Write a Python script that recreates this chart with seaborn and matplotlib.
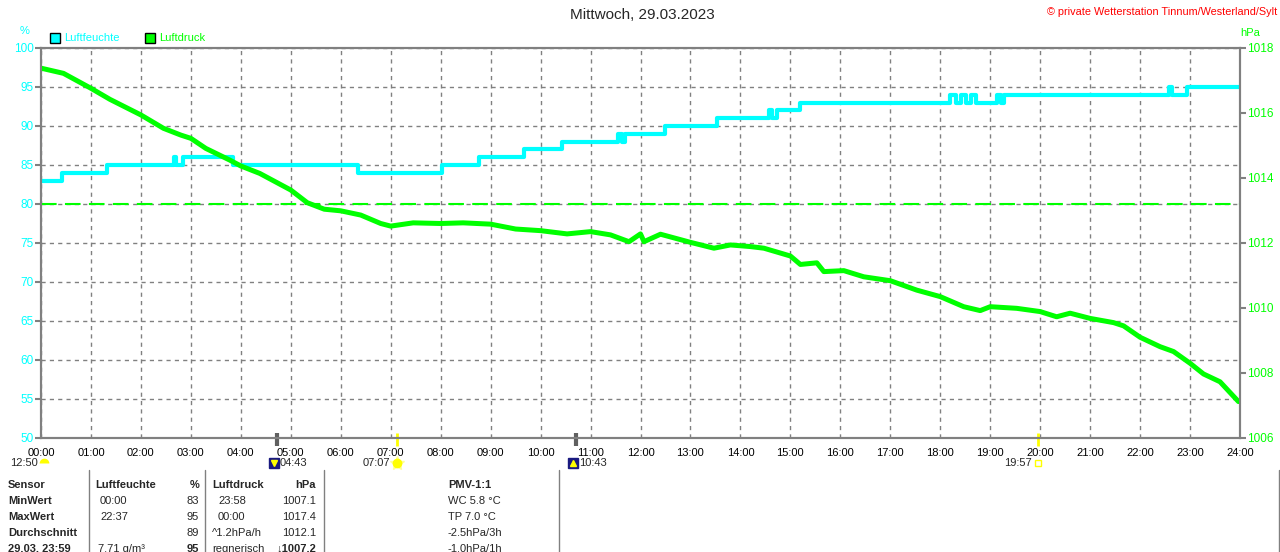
import numpy as np
import pandas as pd
import matplotlib
matplotlib.use("Agg")
import matplotlib.pyplot as plt
import matplotlib.transforms as mtransforms
from matplotlib.lines import Line2D
from matplotlib.patches import Rectangle
import seaborn as sns

# humidity (%), step values, time in hours
hum_hours = [0.00, 0.43, 1.33, 2.66, 2.70, 2.85, 3.84, 6.34, 8.03, 8.77,
             9.67, 10.42, 11.55, 11.62, 11.68, 11.77, 12.50, 13.53, 14.57, 14.63,
             14.74, 15.20, 18.20, 18.32, 18.42, 18.52, 18.62, 18.72, 18.90, 19.13,
             19.22, 19.28, 19.35, 22.58, 22.64, 22.93, 24.00]
hum_values = [83, 84, 85, 86, 85, 86, 85, 84, 85, 86,
              87, 88, 89, 88, 89, 89, 90, 91, 92, 91,
              92, 93, 94, 93, 94, 93, 94, 93, 93, 94,
              93, 94, 94, 95, 94, 95, 95]

# air pressure (hPa)
press_hours = [0, 0.45, 1.0, 1.38, 2.0, 2.45, 2.8, 3.0, 3.3, 3.78,
               4.0, 4.38, 5.0, 5.33, 5.67, 6.0, 6.4, 6.8, 7.0, 7.45,
               8.0, 8.45, 9.0, 9.5, 10.0, 10.53, 11.0, 11.4, 11.77, 12.0,
               12.07, 12.4, 13.0, 13.47, 13.8, 14.2, 14.47, 15.0, 15.2, 15.53,
               15.67, 16.07, 16.47, 17.0, 17.53, 18.0, 18.47, 18.8, 19.0, 19.53,
               20.0, 20.33, 20.6, 21.0, 21.47, 21.67, 22.0, 22.4, 22.67, 23.0,
               23.27, 23.6, 23.97]
press_values = [1017.38, 1017.22, 1016.76, 1016.42, 1015.94, 1015.53, 1015.32, 1015.22, 1014.91, 1014.55,
                1014.37, 1014.14, 1013.63, 1013.24, 1013.04, 1012.99, 1012.86, 1012.60, 1012.52, 1012.62,
                1012.60, 1012.62, 1012.58, 1012.43, 1012.38, 1012.28, 1012.35, 1012.25, 1012.04, 1012.28,
                1012.04, 1012.27, 1012.02, 1011.84, 1011.94, 1011.89, 1011.84, 1011.60, 1011.34, 1011.39,
                1011.12, 1011.15, 1010.96, 1010.84, 1010.55, 1010.35, 1010.04, 1009.92, 1010.04, 1009.99,
                1009.89, 1009.73, 1009.84, 1009.68, 1009.55, 1009.45, 1009.10, 1008.81, 1008.66, 1008.30,
                1007.97, 1007.73, 1007.12]
press_normal = 1013.2

hour_labels = ["%02d:00" % h for h in range(25)]
hum_ticks = list(range(50, 101, 5))
press_ticks = list(range(1006, 1019, 2))

# sun / moon events below the time axis
event_labels = ["04:43", "07:07", "10:43", "19:57"]
event_hours = [4 + 43 / 60, 7 + 7 / 60, 10 + 43 / 60, 19 + 57 / 60]
event_kinds = ["moonrise", "sunrise", "moonset", "sunset"]

# table below the chart
tab_sensor = ["Sensor", "MinWert", "MaxWert", "Durchschnitt", "29.03. 23:59"]
tab_hum_time = ["Luftfeuchte", "00:00", "22:37", "", "7.71 g/m³"]
tab_hum_val = ["%", "83", "95", "89", "95"]
tab_press_time = ["Luftdruck", "23:58", "00:00", "^1.2hPa/h", "regnerisch"]
tab_press_val = ["hPa", "1007.1", "1017.4", "1012.1", "↓1007.2"]
tab_pmv = ["PMV-1:1", "WC 5.8 °C", "TP 7.0 °C", "-2.5hPa/3h", "-1.0hPa/1h"]

CYAN = "#00FFFF"
GREEN = "#00FF00"
GREY = "#808080"

sns.set_style("white")
plt.rcParams["font.family"] = ["Liberation Sans", "DejaVu Sans"]

W, H = 1280, 552
def fx(px):
    return px / W
def fy(py):
    return 1 - py / H

fig = plt.figure(figsize=(12.8, 5.52), dpi=100)
ax = fig.add_axes([fx(41), fy(438), (1240 - 41) / W, 390 / H])

hum_df = pd.DataFrame({"Stunde": hum_hours, "Luftfeuchte": hum_values})
press_df = pd.DataFrame({"Stunde": press_hours, "Luftdruck": press_values})

sns.lineplot(data=hum_df, x="Stunde", y="Luftfeuchte", ax=ax, color=CYAN,
             lw=3, drawstyle="steps-post")
ax.set_xlim(0, 24)
ax.set_ylim(50, 100)
ax.set_xticks(range(25))
ax.set_xticklabels(hour_labels)
ax.set_yticks(hum_ticks)
ax.set_xlabel("")
ax.set_ylabel("")
ax.grid(True, color=GREY, linestyle=(0, (3, 3)), linewidth=1)
ax.tick_params(axis="x", length=0, labelsize=8, pad=7, labelcolor="black")
ax.tick_params(axis="y", length=4, width=1.5, color=GREY, labelsize=8.5,
               pad=1, labelcolor=CYAN)
for s in ax.spines.values():
    s.set_color(GREY)
    s.set_linewidth(1.5)

ax2 = ax.twinx()
ax2.axhline(press_normal, color=GREEN, lw=1.5, dashes=(7.5, 4))
sns.lineplot(data=press_df, x="Stunde", y="Luftdruck", ax=ax2, color=GREEN, lw=3.6)
ax2.set_ylim(1006, 1018)
ax2.set_yticks(press_ticks)
ax2.set_ylabel("")
ax2.tick_params(axis="y", length=4, width=1.5, color=GREY, labelsize=8.5,
                pad=1, labelcolor=GREEN)
for s in ax2.spines.values():
    s.set_color(GREY)
    s.set_linewidth(1.5)

# header texts
fig.text(fx(642), fy(15), "Mittwoch, 29.03.2023", ha="center", va="center", fontsize=11)
fig.text(fx(1277), fy(12), "© private Wetterstation Tinnum/Westerland/Sylt",
         ha="right", va="center", color="red", fontsize=7.8)
fig.text(fx(25), fy(31), "%", ha="center", va="center", color=CYAN, fontsize=8)
fig.text(fx(1250), fy(33), "hPa", ha="center", va="center", color=GREEN, fontsize=8)

# legend
for x0, col, name in [(50, CYAN, "Luftfeuchte"), (145, GREEN, "Luftdruck")]:
    fig.add_artist(Rectangle((fx(x0), fy(43)), 10 / W, 10 / H, facecolor=col,
                             edgecolor="black", lw=1, transform=fig.transFigure))
    fig.text(fx(x0 + 14), fy(38), name, ha="left", va="center", color=col, fontsize=8)

# sun / moon markers
trans = mtransforms.blended_transform_factory(ax.transData, ax.transAxes)
ylab = -25 / 390
for lab, t, kind in zip(event_labels, event_hours, event_kinds):
    moon = kind.startswith("moon")
    ax.plot([t, t], [0.012, -0.02], transform=trans, clip_on=False,
            color="#606060" if moon else "#FFFF00", lw=3 if moon else 2,
            solid_capstyle="butt")
    if moon:
        icon = mtransforms.offset_copy(trans, fig=fig, x=-3, y=0, units="dots")
        ax.plot([t], [ylab], transform=icon, clip_on=False, marker="s", ms=7,
                mfc="#1a1a80", mec="#1a1a80")
        ax.plot([t], [ylab], transform=icon, clip_on=False,
                marker="^" if kind == "moonset" else "v", ms=4,
                mfc="#FFFF00", mec="#FFFF00")
        ax.annotate(lab, xy=(t, ylab), xycoords=trans, xytext=(3, 0),
                    textcoords="offset pixels", ha="left", va="center", fontsize=8,
                    annotation_clip=False)
    else:
        if kind == "sunrise":
            ax.plot([t], [ylab], transform=trans, clip_on=False, marker="*", ms=10,
                    mfc="#FFFF99", mec="#FFFF99")
            ax.plot([t], [ylab], transform=trans, clip_on=False, marker="o", ms=6,
                    mfc="#FFFF00", mec="#FFFF00")
        else:
            ax.plot([t], [ylab], transform=trans, clip_on=False, marker="s", ms=5,
                    mfc="none", mec="#FFFF00", mew=1)
        ax.annotate(lab, xy=(t, ylab), xycoords=trans, xytext=(-6, 0),
                    textcoords="offset pixels", ha="right", va="center", fontsize=8,
                    annotation_clip=False)

fig.text(fx(38), fy(463), "12:50", ha="right", va="center", fontsize=8)
fig.add_artist(Line2D([fx(44)], [fy(463)], marker="o", ms=7, fillstyle="top",
                      mfc="#FFFF00", mec="none", markerfacecoloralt="none",
                      transform=fig.transFigure))

# table
row_y = [485, 500.7, 516.7, 532.7, 548.5]
for i, y in enumerate(row_y):
    head = i == 0
    fig.text(fx(8), fy(y), tab_sensor[i], ha="left", va="center", fontsize=8,
             weight="bold")
    fig.text(fx(95 if head else 100 if i < 4 else 98), fy(y), tab_hum_time[i],
             ha="left", va="center", fontsize=8, weight="bold" if head else "normal")
    fig.text(fx(199), fy(y), tab_hum_val[i], ha="right", va="center", fontsize=8,
             weight="bold" if head or i == 4 else "normal")
    fig.text(fx(212 if head or i >= 3 else 218), fy(y), tab_press_time[i],
             ha="left", va="center", fontsize=8, weight="bold" if head else "normal")
    fig.text(fx(316), fy(y), tab_press_val[i], ha="right", va="center", fontsize=8,
             weight="bold" if head or i == 4 else "normal")
    fig.text(fx(448), fy(y), tab_pmv[i], ha="left", va="center", fontsize=8,
             weight="bold" if head else "normal")

for xs in [89, 205, 324, 559, 1279]:
    fig.add_artist(Line2D([fx(xs), fx(xs)], [fy(470), fy(552)], color=GREY, lw=1,
                          transform=fig.transFigure))

fig.savefig("out.png", dpi=100)
